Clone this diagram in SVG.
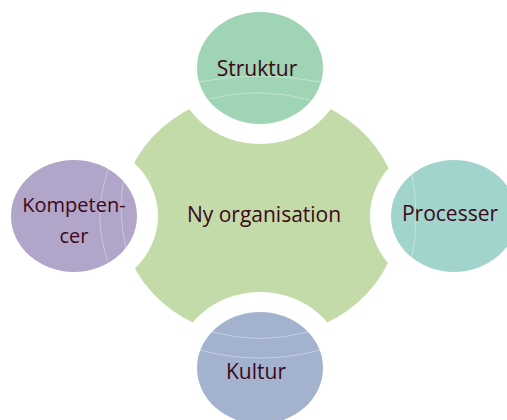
<svg xmlns="http://www.w3.org/2000/svg" width="507" height="420" viewBox="0 0 507 420">
<style>
.lbl{font-family:"Open Sans","Liberation Sans",sans-serif;font-size:21px;fill:#3d0818;text-anchor:middle}
.sm{font-size:20px}
.arc{fill:none;stroke:#ffffff;stroke-opacity:0.45;stroke-width:0.8}
</style>
<defs>
<mask id="cut">
<rect x="0" y="0" width="507" height="420" fill="#fff"/>
<ellipse cx="260" cy="68" rx="84" ry="76" fill="#000"/>
<ellipse cx="74" cy="216" rx="84" ry="76" fill="#000"/>
<ellipse cx="454" cy="216" rx="84" ry="76" fill="#000"/>
<ellipse cx="260" cy="368" rx="84" ry="76" fill="#000"/>
</mask>
</defs>
<rect width="507" height="420" fill="#fff"/>
<g id="connectors"></g>
<g id="center">
<ellipse cx="260" cy="215" rx="139" ry="123" fill="#c3daa9" mask="url(#cut)"/>
<text class="lbl" x="264" y="222">Ny organisation</text>
</g>
<g id="struktur">
<ellipse cx="260" cy="68" rx="63" ry="56" fill="#9fd4b4"/>
<path class="arc" d="M199,82 Q258,70 320,82"/>
<path class="arc" d="M209,99 Q258,86 310,100"/>
<text class="lbl" x="257" y="76">Struktur</text>
</g>
<g id="kompetencer">
<ellipse cx="74" cy="216" rx="63" ry="56" fill="#b1a6c9"/>
<path class="arc" d="M108,170 Q92,217 108,262"/>
<path class="arc" d="M123,182 Q118,215 126,248"/>
<text class="lbl sm" x="74" y="212">Kompeten-</text>
<text class="lbl sm" x="74" y="243">cer</text>
</g>
<g id="processer">
<ellipse cx="454" cy="216" rx="63" ry="56" fill="#a1d4cc"/>
<path class="arc" d="M412,175 Q420,217 412,257"/>
<text class="lbl" x="450" y="221">Processer</text>
</g>
<g id="kultur">
<ellipse cx="260" cy="368" rx="63" ry="56" fill="#a3b3cf"/>
<path class="arc" d="M212,332 Q260,345 308,332"/>
<path class="arc" d="M200,350 Q260,366 320,350"/>
<text class="lbl" x="256" y="379">Kultur</text>
</g>
</svg>
